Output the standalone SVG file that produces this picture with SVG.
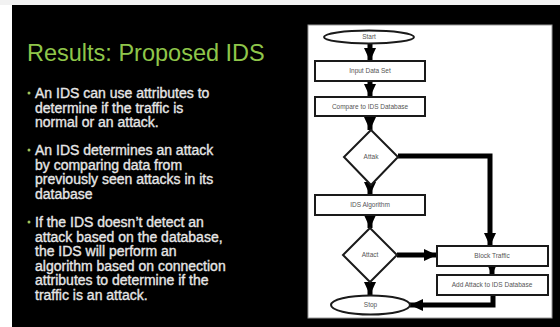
<svg xmlns="http://www.w3.org/2000/svg" width="560" height="327" viewBox="0 0 560 327">
<defs>
<style>
.title{font-family:"Liberation Sans",Arial,sans-serif;font-size:23.5px;fill:#8fc64a}
.body{font-family:"Liberation Sans",Arial,sans-serif;font-size:14px;fill:#e6e6e6;stroke:#e6e6e6;stroke-width:0.35}
.bul{fill:#9cc45a}
.box{fill:#fff;stroke:#1a1a1a;stroke-width:2}
.lbl{font-family:"Liberation Sans",Arial,sans-serif;font-size:6.5px;fill:#555;text-anchor:middle}
.con{fill:none;stroke:#000;stroke-width:5}
</style>
<marker id="ah" markerUnits="userSpaceOnUse" markerWidth="14" markerHeight="14" viewBox="0 0 14 14" refX="13" refY="7" orient="auto">
<path d="M0,1 L13,7 L0,13 Z" fill="#000"/>
</marker>
</defs>
<rect x="0" y="0" width="560" height="327" fill="#000"/>
<rect x="0" y="0" width="12" height="327" fill="#fff"/>
<rect x="0" y="0" width="560" height="5" fill="#f2f2f2"/>

<g id="slide-text">
<text class="title" x="27" y="61">Results: Proposed IDS</text>
<circle class="bul" cx="29" cy="93" r="1.5"/>
<text class="body" x="35" y="98">An IDS can use attributes to</text>
<text class="body" x="35" y="112.5">determine if the traffic is</text>
<text class="body" x="35" y="127">normal or an attack.</text>
<circle class="bul" cx="29" cy="150" r="1.5"/>
<text class="body" x="35" y="155">An IDS determines an attack</text>
<text class="body" x="35" y="169.5">by comparing data from</text>
<text class="body" x="35" y="184">previously seen attacks in its</text>
<text class="body" x="35" y="198.5">database</text>
<circle class="bul" cx="29" cy="222" r="1.5"/>
<text class="body" x="35" y="227">If the IDS doesn’t detect an</text>
<text class="body" x="35" y="241.5">attack based on the database,</text>
<text class="body" x="35" y="256">the IDS will perform an</text>
<text class="body" x="35" y="270.5">algorithm based on connection</text>
<text class="body" x="35" y="285">attributes to determine if the</text>
<text class="body" x="35" y="299.5">traffic is an attack.</text>
</g>

<rect x="308" y="25" width="244" height="293" fill="#fff" stroke="#999" stroke-width="1"/>

<g id="connectors">
<path class="con" d="M370,43 V61" marker-end="url(#ah)"/>
<path class="con" d="M370,81 V97" marker-end="url(#ah)"/>
<path class="con" d="M370,116 V130" marker-end="url(#ah)"/>
<path class="con" d="M370,185 V195" marker-end="url(#ah)"/>
<path class="con" d="M370,215 V228" marker-end="url(#ah)"/>
<path class="con" d="M397,255 H437" marker-end="url(#ah)"/>
<path class="con" d="M370,282 V295" marker-end="url(#ah)"/>
<path class="con" d="M492,266 V275" marker-end="url(#ah)"/>
<path class="con" d="M493,295 V305 H410" marker-end="url(#ah)"/>
<path class="con" d="M398,156 H490 V246" marker-end="url(#ah)"/>
</g>

<g id="start"><ellipse class="box" cx="369" cy="37" rx="45" ry="6.5"/><text class="lbl" x="369" y="39">Start</text></g>
<g id="input"><rect class="box" x="315" y="61" width="110" height="20"/><text class="lbl" x="370" y="73">Input Data Set</text></g>
<g id="compare"><rect class="box" x="315" y="97" width="110" height="19"/><text class="lbl" x="370" y="109">Compare to IDS Database</text></g>
<g id="attack1"><path class="box" d="M371,130 L398,157 L371,185 L344,157 Z"/><text class="lbl" x="371" y="159">Attak</text></g>
<g id="algorithm"><rect class="box" x="315" y="195" width="110" height="20"/><text class="lbl" x="370" y="207">IDS Algorithm</text></g>
<g id="attack2"><path class="box" d="M370,228 L397,255 L370,282 L343,255 Z"/><text class="lbl" x="370" y="257">Attact</text></g>
<g id="block"><rect class="box" x="437" y="246" width="111" height="20"/><text class="lbl" x="492" y="258">Block Traffic</text></g>
<g id="addattack"><rect class="box" x="437" y="275" width="111" height="20"/><text class="lbl" x="492" y="287">Add Attack to IDS Database</text></g>
<g id="stop"><ellipse class="box" cx="370.5" cy="305" rx="39.5" ry="9.5"/><text class="lbl" x="370.5" y="307">Stop</text></g>
</svg>
